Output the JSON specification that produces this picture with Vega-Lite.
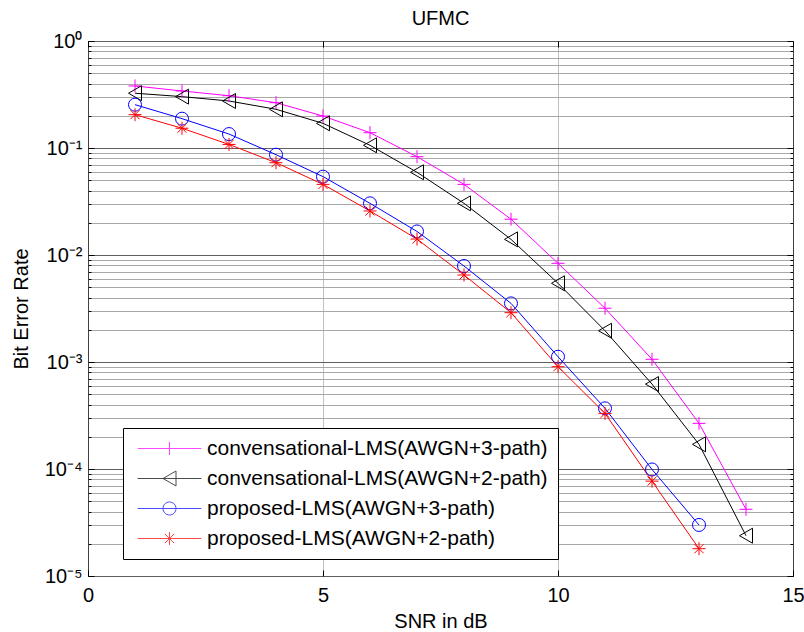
{
  "$schema": "https://vega.github.io/schema/vega-lite/v6.json",
  "width": 705,
  "height": 535,
  "autosize": "none",
  "padding": {"left": 88, "top": 41, "right": 11, "bottom": 56},
  "background": "white",
  "config": {
    "font": "Liberation Sans",
    "view": {"stroke": "black", "strokeWidth": 1},
    "axis": {"domain": false, "tickColor": "black", "tickWidth": 1, "labelColor": "black", "titleColor": "black", "labelFontSize": 20, "titleFontSize": 20, "titleFontWeight": "normal", "labelFlush": false, "labelOverlap": false},
    "legend": {
      "orient": "none", "legendX": 35, "legendY": 387, "padding": 10,
      "strokeColor": "black", "fillColor": "white",
      "labelFontSize": 21, "labelColor": "black", "labelFont": "Liberation Sans", "labelLimit": 0,
      "rowPadding": 8, "symbolSize": 169, "symbolStrokeWidth": 1,
      "symbolOffset": 26, "labelOffset": 27, "title": null
    }
  },
  "title": {"text": "UFMC", "fontSize": 20, "fontWeight": "normal", "font": "Liberation Sans", "anchor": "middle", "offset": 14, "dy": 12, "color": "black"},
  "datasets": {
    "ber": [
      {"series": "convensational-LMS(AWGN+3-path)", "snr": 1, "ber": 0.38},
      {"series": "convensational-LMS(AWGN+3-path)", "snr": 2, "ber": 0.341},
      {"series": "convensational-LMS(AWGN+3-path)", "snr": 3, "ber": 0.308},
      {"series": "convensational-LMS(AWGN+3-path)", "snr": 4, "ber": 0.265},
      {"series": "convensational-LMS(AWGN+3-path)", "snr": 5, "ber": 0.199},
      {"series": "convensational-LMS(AWGN+3-path)", "snr": 6, "ber": 0.139},
      {"series": "convensational-LMS(AWGN+3-path)", "snr": 7, "ber": 0.083},
      {"series": "convensational-LMS(AWGN+3-path)", "snr": 8, "ber": 0.0457},
      {"series": "convensational-LMS(AWGN+3-path)", "snr": 9, "ber": 0.0216},
      {"series": "convensational-LMS(AWGN+3-path)", "snr": 10, "ber": 0.00836},
      {"series": "convensational-LMS(AWGN+3-path)", "snr": 11, "ber": 0.00318},
      {"series": "convensational-LMS(AWGN+3-path)", "snr": 12, "ber": 0.00106},
      {"series": "convensational-LMS(AWGN+3-path)", "snr": 13, "ber": 0.000267},
      {"series": "convensational-LMS(AWGN+3-path)", "snr": 14, "ber": 0.000042},
      {"series": "convensational-LMS(AWGN+2-path)", "snr": 1, "ber": 0.325},
      {"series": "convensational-LMS(AWGN+2-path)", "snr": 2, "ber": 0.302},
      {"series": "convensational-LMS(AWGN+2-path)", "snr": 3, "ber": 0.275},
      {"series": "convensational-LMS(AWGN+2-path)", "snr": 4, "ber": 0.23},
      {"series": "convensational-LMS(AWGN+2-path)", "snr": 5, "ber": 0.17},
      {"series": "convensational-LMS(AWGN+2-path)", "snr": 6, "ber": 0.106},
      {"series": "convensational-LMS(AWGN+2-path)", "snr": 7, "ber": 0.0593},
      {"series": "convensational-LMS(AWGN+2-path)", "snr": 8, "ber": 0.0304},
      {"series": "convensational-LMS(AWGN+2-path)", "snr": 9, "ber": 0.014},
      {"series": "convensational-LMS(AWGN+2-path)", "snr": 10, "ber": 0.00544},
      {"series": "convensational-LMS(AWGN+2-path)", "snr": 11, "ber": 0.00196},
      {"series": "convensational-LMS(AWGN+2-path)", "snr": 12, "ber": 0.000622},
      {"series": "convensational-LMS(AWGN+2-path)", "snr": 13, "ber": 0.00017},
      {"series": "convensational-LMS(AWGN+2-path)", "snr": 14, "ber": 0.0000238},
      {"series": "proposed-LMS(AWGN+3-path)", "snr": 1, "ber": 0.254},
      {"series": "proposed-LMS(AWGN+3-path)", "snr": 2, "ber": 0.188},
      {"series": "proposed-LMS(AWGN+3-path)", "snr": 3, "ber": 0.135},
      {"series": "proposed-LMS(AWGN+3-path)", "snr": 4, "ber": 0.0866},
      {"series": "proposed-LMS(AWGN+3-path)", "snr": 5, "ber": 0.054},
      {"series": "proposed-LMS(AWGN+3-path)", "snr": 6, "ber": 0.0304},
      {"series": "proposed-LMS(AWGN+3-path)", "snr": 7, "ber": 0.0166},
      {"series": "proposed-LMS(AWGN+3-path)", "snr": 8, "ber": 0.00789},
      {"series": "proposed-LMS(AWGN+3-path)", "snr": 9, "ber": 0.00353},
      {"series": "proposed-LMS(AWGN+3-path)", "snr": 10, "ber": 0.00112},
      {"series": "proposed-LMS(AWGN+3-path)", "snr": 11, "ber": 0.000369},
      {"series": "proposed-LMS(AWGN+3-path)", "snr": 12, "ber": 0.000099},
      {"series": "proposed-LMS(AWGN+3-path)", "snr": 13, "ber": 0.00003},
      {"series": "proposed-LMS(AWGN+2-path)", "snr": 1, "ber": 0.205},
      {"series": "proposed-LMS(AWGN+2-path)", "snr": 2, "ber": 0.153},
      {"series": "proposed-LMS(AWGN+2-path)", "snr": 3, "ber": 0.108},
      {"series": "proposed-LMS(AWGN+2-path)", "snr": 4, "ber": 0.0729},
      {"series": "proposed-LMS(AWGN+2-path)", "snr": 5, "ber": 0.0457},
      {"series": "proposed-LMS(AWGN+2-path)", "snr": 6, "ber": 0.0258},
      {"series": "proposed-LMS(AWGN+2-path)", "snr": 7, "ber": 0.0141},
      {"series": "proposed-LMS(AWGN+2-path)", "snr": 8, "ber": 0.0065},
      {"series": "proposed-LMS(AWGN+2-path)", "snr": 9, "ber": 0.00289},
      {"series": "proposed-LMS(AWGN+2-path)", "snr": 10, "ber": 0.000904},
      {"series": "proposed-LMS(AWGN+2-path)", "snr": 11, "ber": 0.000331},
      {"series": "proposed-LMS(AWGN+2-path)", "snr": 12, "ber": 0.000077},
      {"series": "proposed-LMS(AWGN+2-path)", "snr": 13, "ber": 0.000018}
    ]
  },
  "data": {"name": "ber"},
  "layer": [
    {
      "mark": {"type": "line", "strokeWidth": 1, "clip": true},
      "encoding": {
        "x": {"field": "snr", "type": "quantitative", "scale": {"domain": [0, 15], "nice": false, "zero": false},
          "axis": {"orient": "bottom", "values": [0, 5, 10, 15], "grid": true, "gridColor": "#808080", "gridDash": [1, 1], "tickSize": -6, "labelPadding": 15, "title": "SNR in dB", "titlePadding": 6}},
        "y": {"field": "ber", "type": "quantitative", "scale": {"type": "log", "domain": [0.00001, 1], "nice": false},
          "axis": {"orient": "left", "values": [1, 0.1, 0.01, 0.001, 0.0001, 0.00001], "grid": true, "gridColor": "#606060", "tickSize": -6, "labelPadding": 12,
            "labelExpr": "['10⁰','10⁻¹','10⁻²','10⁻³','10⁻⁴','10⁻⁵'][round(-log(datum.value)/LN10)]",
            "title": "Bit Error Rate", "titlePadding": 13}},
        "color": {"field": "series", "type": "nominal",
          "scale": {"domain": ["convensational-LMS(AWGN+3-path)", "convensational-LMS(AWGN+2-path)", "proposed-LMS(AWGN+3-path)", "proposed-LMS(AWGN+2-path)"], "range": ["#ff00ff", "#000000", "#0000ff", "#ff0000"]},
          "legend": null}
      }
    },
    {
      "mark": {"type": "point", "filled": false, "size": 169, "strokeWidth": 1, "opacity": 1},
      "encoding": {
        "x": {"field": "snr", "type": "quantitative", "scale": {"domain": [0, 15], "nice": false, "zero": false}, "axis": null},
        "y": {"field": "ber", "type": "quantitative", "scale": {"type": "log", "domain": [0.00001, 1], "nice": false},
          "axis": {"orient": "left", "values": [0.9, 0.8, 0.7, 0.6, 0.5, 0.4, 0.3, 0.2, 0.09, 0.08, 0.07, 0.06, 0.05, 0.04, 0.03, 0.02, 0.009, 0.008, 0.007, 0.006, 0.005, 0.004, 0.003, 0.002, 0.0009, 0.0008, 0.0007, 0.0006, 0.0005, 0.0004, 0.0003, 0.0002, 0.00009, 0.00008, 0.00007, 0.00006, 0.00005, 0.00004, 0.00003, 0.00002],
            "grid": true, "gridColor": "#a8a8a8", "tickSize": -3, "labels": false, "title": null}},
        "color": {"field": "series", "type": "nominal",
          "scale": {"domain": ["convensational-LMS(AWGN+3-path)", "convensational-LMS(AWGN+2-path)", "proposed-LMS(AWGN+3-path)", "proposed-LMS(AWGN+2-path)"], "range": ["#ff00ff", "#000000", "#0000ff", "#ff0000"]},
          "legend": null},
        "shape": {"field": "series", "type": "nominal",
          "scale": {"domain": ["convensational-LMS(AWGN+3-path)", "convensational-LMS(AWGN+2-path)", "proposed-LMS(AWGN+3-path)", "proposed-LMS(AWGN+2-path)"],
            "range": ["M-1,0H1M0,-1V1", "M1,-1.15L-1,0L1,1.15Z", "circle", "M-1,0H1M0,-1V1M-0.7,-0.7L0.7,0.7M-0.7,0.7L0.7,-0.7"]},
          "legend": null}
      }
    },
    {
      "transform": [{"filter": "datum.snr > 100"}],
      "mark": {"type": "point", "filled": false, "size": 169, "strokeWidth": 1},
      "encoding": {
        "x": {"field": "snr", "type": "quantitative", "scale": {"domain": [0, 15], "nice": false, "zero": false}, "axis": null},
        "y": {"field": "ber", "type": "quantitative", "scale": {"type": "log", "domain": [0.00001, 1], "nice": false}, "axis": null},
        "color": {"field": "series", "type": "nominal",
          "scale": {"domain": ["convensational-LMS(AWGN+3-path)", "convensational-LMS(AWGN+2-path)", "proposed-LMS(AWGN+3-path)", "proposed-LMS(AWGN+2-path)"], "range": ["#ff00ff", "#000000", "#0000ff", "#ff0000"]},
          "legend": {"title": null}},
        "shape": {"field": "series", "type": "nominal",
          "scale": {"domain": ["convensational-LMS(AWGN+3-path)", "convensational-LMS(AWGN+2-path)", "proposed-LMS(AWGN+3-path)", "proposed-LMS(AWGN+2-path)"],
            "range": ["M-4.9,0H4.9M0,-1V1", "M-4.9,0H4.9M1,-1.15L-1,0L1,1.15Z", "M-4.9,0H4.9M1,0A1,1,0,1,1,-1,0A1,1,0,1,1,1,0Z", "M-4.9,0H4.9M0,-1V1M-0.7,-0.7L0.7,0.7M-0.7,0.7L0.7,-0.7"]},
          "legend": {"title": null}}
      }
    },
    {
      "transform": [{"filter": "datum.snr > 100"}],
      "mark": {"type": "point"},
      "encoding": {
        "x": {"field": "snr", "type": "quantitative", "scale": {"domain": [0, 15], "nice": false, "zero": false},
          "axis": {"orient": "top", "values": [0, 5, 10, 15], "grid": false, "tickSize": -6, "labels": false, "title": null}},
        "y": {"field": "ber", "type": "quantitative", "scale": {"type": "log", "domain": [0.00001, 1], "nice": false},
          "axis": {"orient": "right", "values": [1, 0.1, 0.01, 0.001, 0.0001, 0.00001], "grid": false, "tickSize": -6, "labels": false, "title": null}}
      }
    },
    {
      "transform": [{"filter": "datum.snr > 100"}],
      "mark": {"type": "point"},
      "encoding": {
        "x": {"field": "snr", "type": "quantitative", "scale": {"domain": [0, 15], "nice": false, "zero": false}, "axis": null},
        "y": {"field": "ber", "type": "quantitative", "scale": {"type": "log", "domain": [0.00001, 1], "nice": false},
          "axis": {"orient": "right", "values": [0.9, 0.8, 0.7, 0.6, 0.5, 0.4, 0.3, 0.2, 0.09, 0.08, 0.07, 0.06, 0.05, 0.04, 0.03, 0.02, 0.009, 0.008, 0.007, 0.006, 0.005, 0.004, 0.003, 0.002, 0.0009, 0.0008, 0.0007, 0.0006, 0.0005, 0.0004, 0.0003, 0.0002, 0.00009, 0.00008, 0.00007, 0.00006, 0.00005, 0.00004, 0.00003, 0.00002],
            "grid": false, "tickSize": -3, "labels": false, "title": null}}
      }
    }
  ],
  "resolve": {
    "scale": {"x": "independent", "y": "independent", "color": "independent", "shape": "independent"},
    "axis": {"x": "independent", "y": "independent"}
  }
}
